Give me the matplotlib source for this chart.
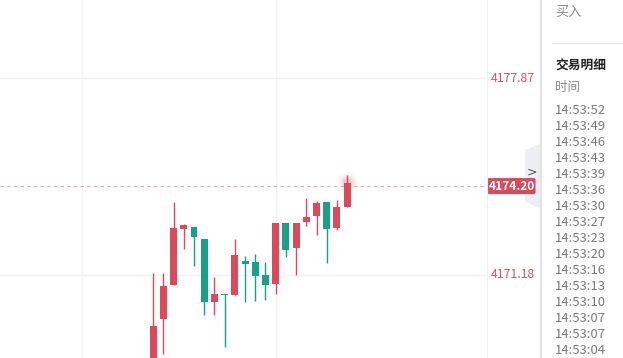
"""Candlestick snapshot with trade-detail side panel."""
import matplotlib.pyplot as plt
from matplotlib.patches import Polygon, FancyBboxPatch
import numpy as np

plt.rcParams['font.family'] = ['Noto Sans CJK SC', 'DejaVu Sans']

# OHLC values (red = up, green = down)
opens = [4168.00, 4169.70, 4170.85, 4172.75, 4172.81, 4172.40, 4170.27, 4170.53, 4170.51, 4171.66,
         4171.62, 4171.18, 4170.87, 4172.96, 4172.09, 4172.99, 4173.18, 4173.67, 4172.79, 4173.50]
highs = [4171.25, 4171.25, 4173.67, 4172.91, 4172.81, 4172.40, 4171.12, 4170.53, 4172.40, 4171.83,
         4171.88, 4171.62, 4172.96, 4172.96, 4172.96, 4173.81, 4173.70, 4173.67, 4173.73, 4174.58]
lows = [4167.80, 4168.50, 4170.85, 4172.06, 4171.49, 4169.82, 4169.82, 4168.75, 4170.51, 4170.27,
        4170.31, 4170.33, 4170.53, 4171.80, 4171.18, 4172.84, 4172.54, 4171.60, 4172.71, 4173.50]
closes = [4169.45, 4170.81, 4172.77, 4172.88, 4172.48, 4170.27, 4170.53, 4170.50, 4171.86, 4171.56,
          4171.15, 4170.85, 4172.96, 4172.03, 4172.96, 4173.15, 4173.63, 4172.75, 4173.49, 4174.30]

y_ticks = [4177.87, 4171.18]
last_price = 4174.20
grid_x = [-7, 12]

trade_times = ['14:53:52', '14:53:49', '14:53:46', '14:53:43', '14:53:39', '14:53:36',
               '14:53:30', '14:53:27', '14:53:23', '14:53:20', '14:53:16', '14:53:13',
               '14:53:10', '14:53:07', '14:53:07', '14:53:04']

RED = '#da4a5b'
GREEN = '#15a287'

fig = plt.figure(figsize=(6.23, 3.58), dpi=100)
fig.patch.set_facecolor('white')

ax = fig.add_axes([0, 0, 486 / 623, 1])
ax.set_xlim(-15.0, 32.6)
ax.set_ylim(4168.36, 4180.52)
for s in ax.spines.values():
    s.set_visible(False)
ax.set_xticks([])
ax.set_yticks([])

for yv in y_ticks:
    ax.axhline(yv, color='#f2f2f2', lw=1.0, zorder=0)
for xv in grid_x:
    ax.axvline(xv, color='#f4f4f4', lw=1.0, zorder=0)

x = np.arange(len(opens))
o = np.array(opens)
c = np.array(closes)
up = c >= o
colors = np.where(up, RED, GREEN)
colors[7] = GREEN

ax.vlines(x, lows, highs, colors=colors, lw=1.0, zorder=2)
body_lo = np.minimum(o, c)
body_h = np.maximum(np.abs(c - o), 0.05)
ax.bar(x, body_h, bottom=body_lo, width=0.68, color=colors, zorder=3, linewidth=0)

# soft glow on the live candle
for sz, al in [(180, 0.05), (120, 0.07), (70, 0.09), (35, 0.12)]:
    ax.scatter([x[-1]], [closes[-1] + 0.05], s=sz, color=RED, alpha=al, lw=0, zorder=4)

ax.axhline(last_price, color='#eba3ad', lw=0.8, ls=(0, (3, 3)), zorder=1)

# overlay in pixel coordinates for the side area
ov = fig.add_axes([0, 0, 1, 1], zorder=5)
ov.set_xlim(0, 623)
ov.set_ylim(358, 0)
ov.axis('off')
ov.patch.set_alpha(0)

ov.plot([486.5, 486.5], [0, 358], color='#efefef', lw=0.8)
ov.plot([540.5, 540.5], [0, 358], color='#e3e3e3', lw=1.6)

for yv in y_ticks:
    py = (4180.52 - yv) / (4180.52 - 4168.36) * 358
    ov.text(535, py, f'{yv:.2f}', color='#d6505f', fontsize=8.8,
            ha='right', va='center')

# collapse tab
ov.add_patch(Polygon([[525, 150], [540, 144], [540, 208], [525, 202]],
                     closed=True, color='#edeef2', lw=0))
ov.text(532, 172, '>', color='#555555', fontsize=9, ha='center', va='center',
        family='DejaVu Sans')

# last price tag
py_last = (4180.52 - last_price) / (4180.52 - 4168.36) * 358
ov.add_patch(FancyBboxPatch((487.5, py_last - 8), 48, 16,
                            boxstyle='round,pad=0,rounding_size=1.5',
                            color='#d94a5b', lw=0))
ov.text(511.5, py_last + 0.5, f'{last_price:.2f}', color='white', fontsize=8.6,
        fontweight='bold', ha='center', va='center')

# side panel
ov.text(555, 12, '买入', color='#8a8a8a', fontsize=9.5, va='center', ha='left')
ov.plot([552, 623], [42.5, 42.5], color='#e8e8e8', lw=0.8)
ov.text(555, 66, '交易明细', color='#222222', fontsize=9.2, fontweight='bold',
        va='center', ha='left')
ov.text(555, 88, '时间', color='#8a8a8a', fontsize=9, va='center', ha='left')
for i, t in enumerate(trade_times):
    ov.text(555, 110 + i * 16, t, color='#7a7a7a', fontsize=9.4,
            va='center', ha='left')

fig.savefig('out.png', dpi=100)
